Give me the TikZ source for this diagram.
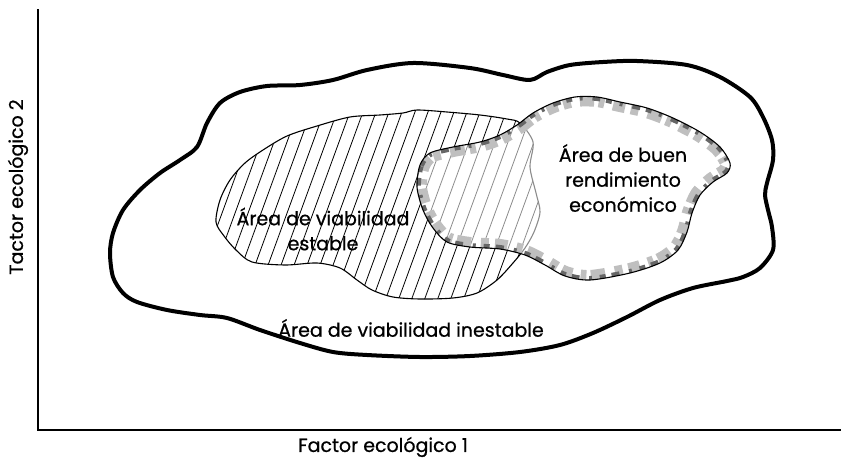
\documentclass[tikz,border=0pt]{standalone}
\usepackage{fontspec}
\setmainfont[FakeBold=0.7]{Poppins}
\begin{document}
\begin{tikzpicture}[x=1pt,y=-1pt,
  axisline/.style={line width=1.1pt,black},
  outerline/.style={line width=4pt,black,line join=round},
  hatchline/.style={line width=0.8pt,black},
  thinborder/.style={line width=1.1pt,black},
  lbl/.style={inner sep=0pt,align=center,font=\fontsize{19}{25}\selectfont}]
\useasboundingbox (0,0) rectangle (841,463);
% axes
\coordinate (ytop) at (38,9);
\coordinate (origin) at (38,430);
\coordinate (xend) at (841,430);
\draw[axisline] (ytop) -- (origin) -- (xend);
% outer region
\draw[outerline] plot[smooth cycle] coordinates {
 (110,253) (113,233) (123,210) (140,190) (160,173) (180,160) (197,147) (207,123)
 (220,103) (240,92) (267,86) (300,85) (333,80) (367,70) (413,63) (470,68) (503,75)
 (530,80) (547,72) (570,65) (603,62) (637,61) (687,65) (720,77) (750,97) (763,117)
 (772,140) (773,160) (767,183) (765,195) (768,210) (772,227) (773,250) (760,268)
 (743,277) (727,281) (693,288) (660,300) (627,317) (593,333) (560,345) (520,352)
 (470,356) (420,357) (367,355) (333,352) (300,343) (260,330) (227,318) (200,315)
 (167,310) (137,302) (123,293) (113,277)};
% hatched region
\begin{scope}
\clip plot[smooth cycle] coordinates {
 (216,222) (224,236) (236,250) (252,262) (285,265) (317,263) (340,268) (357,280)
 (372,290) (393,297) (420,299) (453,298) (477,293) (497,280) (513,263) (525,248)
 (534,232) (540,212) (536,193) (530,167) (533,142) (520,123) (507,119) (480,115)
 (447,112) (417,110) (403,113) (380,115) (350,117) (317,126) (287,136) (263,150)
 (245,163) (230,180) (220,200)};
\foreach \i in {0,...,36} \draw[hatchline] (118+\i*13,320) -- ++(84,-230);
\end{scope}
\draw[thinborder] plot[smooth cycle] coordinates {
 (216,222) (224,236) (236,250) (252,262) (285,265) (317,263) (340,268) (357,280)
 (372,290) (393,297) (420,299) (453,298) (477,293) (497,280) (513,263) (525,248)
 (534,232) (540,212) (536,193) (530,167) (533,142) (520,123) (507,119) (480,115)
 (447,112) (417,110) (403,113) (380,115) (350,117) (317,126) (287,136) (263,150)
 (245,163) (230,180) (220,200)};
% economic region
\fill[white,opacity=0.55] plot[smooth cycle] coordinates {
 (417,187) (420,165) (430,153) (453,147) (480,142) (500,135) (517,125) (533,113)
 (553,103) (575,97) (597,97) (620,102) (647,108) (673,118) (700,132) (720,147)
 (730,163) (727,173) (713,182) (700,195) (692,213) (687,232) (678,250) (660,263)
 (630,273) (590,280) (565,276) (545,265) (525,255) (500,249) (470,247) (447,242)
 (433,228) (423,210)};
\begin{scope}
\clip plot[smooth cycle] coordinates {
 (417,187) (420,165) (430,153) (453,147) (480,142) (500,135) (517,125) (533,113)
 (553,103) (575,97) (597,97) (620,102) (647,108) (673,118) (700,132) (720,147)
 (730,163) (727,173) (713,182) (700,195) (692,213) (687,232) (678,250) (660,263)
 (630,273) (590,280) (565,276) (545,265) (525,255) (500,249) (470,247) (447,242)
 (433,228) (423,210)};
\draw[line width=20pt,gray!50,dash pattern=on 12pt off 6pt on 8pt off 10pt on 15pt off 5pt on 6pt off 9pt] plot[smooth cycle] coordinates {
 (417,187) (420,165) (430,153) (453,147) (480,142) (500,135) (517,125) (533,113)
 (553,103) (575,97) (597,97) (620,102) (647,108) (673,118) (700,132) (720,147)
 (730,163) (727,173) (713,182) (700,195) (692,213) (687,232) (678,250) (660,263)
 (630,273) (590,280) (565,276) (545,265) (525,255) (500,249) (470,247) (447,242)
 (433,228) (423,210)};
\draw[line width=8pt,black!60,dash pattern=on 6pt off 8pt on 3pt off 10pt on 8pt off 6pt] plot[smooth cycle] coordinates {
 (417,187) (420,165) (430,153) (453,147) (480,142) (500,135) (517,125) (533,113)
 (553,103) (575,97) (597,97) (620,102) (647,108) (673,118) (700,132) (720,147)
 (730,163) (727,173) (713,182) (700,195) (692,213) (687,232) (678,250) (660,263)
 (630,273) (590,280) (565,276) (545,265) (525,255) (500,249) (470,247) (447,242)
 (433,228) (423,210)};
\end{scope}
\draw[thinborder] plot[smooth cycle] coordinates {
 (417,187) (420,165) (430,153) (453,147) (480,142) (500,135) (517,125) (533,113)
 (553,103) (575,97) (597,97) (620,102) (647,108) (673,118) (700,132) (720,147)
 (730,163) (727,173) (713,182) (700,195) (692,213) (687,232) (678,250) (660,263)
 (630,273) (590,280) (565,276) (545,265) (525,255) (500,249) (470,247) (447,242)
 (433,228) (423,210)};
% labels
\node[lbl] (stable) at (323,229) {Área de viabilidad\\estable};
\node[lbl] (unstable) at (411,328) {Área de viabilidad inestable};
\node[lbl] (econ) at (623,178) {Área de buen\\rendimiento\\económico};
\node[lbl,rotate=90] (ylab) at (18,187) {Tactor ecológico 2};
\node[lbl] (xlab) at (383,447) {Factor ecológico 1};
\end{tikzpicture}
\end{document}
